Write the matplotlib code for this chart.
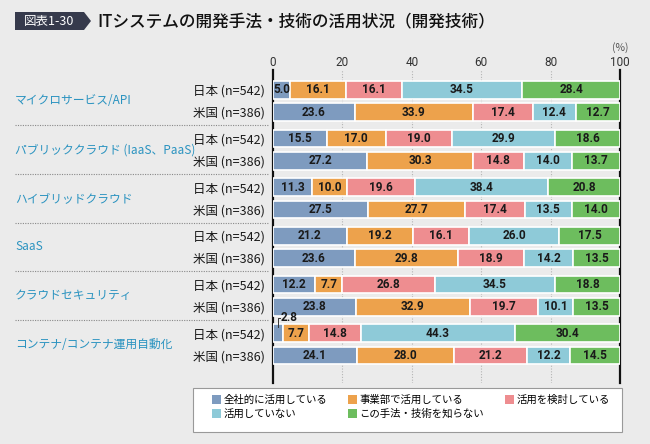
import matplotlib
matplotlib.use('Agg')
import matplotlib.pyplot as plt
import matplotlib.transforms as mtrans
from matplotlib.patches import Polygon, Rectangle

plt.rcParams['font.family'] = ['Noto Sans CJK JP', 'DejaVu Sans']

TITLE_TAG = '図表1-30'
TITLE = 'ITシステムの開発手法・技術の活用状況（開発技術）'

CATEGORIES = ['マイクロサービス/API', 'パブリッククラウド (IaaS、PaaS)', 'ハイブリッドクラウド',
              'SaaS', 'クラウドセキュリティ', 'コンテナ/コンテナ運用自動化']
ROW_LABELS = ['日本 (n=542)', '米国 (n=386)']
SERIES = ['全社的に活用している', '事業部で活用している', '活用を検討している',
          '活用していない', 'この手法・技術を知らない']
COLORS = ['#7e9bbf', '#eda24c', '#ee8d90', '#8ecad8', '#6dbd5e']

# one list per series, rows ordered 日本/米国 for each category
ZENSHA = [5.0, 23.6, 15.5, 27.2, 11.3, 27.5, 21.2, 23.6, 12.2, 23.8, 2.8, 24.1]
JIGYOBU = [16.1, 33.9, 17.0, 30.3, 10.0, 27.7, 19.2, 29.8, 7.7, 32.9, 7.7, 28.0]
KENTO = [16.1, 17.4, 19.0, 14.8, 19.6, 17.4, 16.1, 18.9, 26.8, 19.7, 14.8, 21.2]
MISIYO = [34.5, 12.4, 29.9, 14.0, 38.4, 13.5, 26.0, 14.2, 34.5, 10.1, 44.3, 12.2]
SHIRANAI = [28.4, 12.7, 18.6, 13.7, 20.8, 14.0, 17.5, 13.5, 18.8, 13.5, 30.4, 14.5]

X_TICKS = [0, 20, 40, 60, 80, 100]

GROUP_STEP = 2.2
NUM_FONT = ['Roboto', 'DejaVu Sans']


def main():
    fig = plt.figure(figsize=(6.5, 4.44), dpi=100)
    fig.patch.set_facecolor('#ebebeb')
    ax = fig.add_axes([273 / 650, 1 - 383 / 444, 347 / 650, 313 / 444])
    ax.set_facecolor('#ebebeb')

    ypos = []
    for g in range(len(CATEGORIES)):
        ypos += [g * GROUP_STEP, g * GROUP_STEP + 1]

    series = [ZENSHA, JIGYOBU, KENTO, MISIYO, SHIRANAI]
    left = [0.0] * len(ypos)
    handles = []
    for name, vals, col in zip(SERIES, series, COLORS):
        bars = ax.barh(ypos, vals, left=left, height=0.8, color=col,
                       edgecolor='white', linewidth=1.2, label=name, zorder=3)
        handles.append(bars)
        for y, l, v in zip(ypos, left, vals):
            if v < 4:
                continue
            ax.text(l + v / 2, y, '%.1f' % v, ha='center', va='center',
                    fontsize=8.5, fontweight='bold', color='#1a1a1a',
                    family=NUM_FONT, zorder=4)
        left = [a + b for a, b in zip(left, vals)]

    # small value with a leader line
    y_small = ypos[10]
    v_small = ZENSHA[10]
    ax.plot([v_small / 2, v_small / 2, 2.0], [y_small - 0.3, y_small - 0.7, y_small - 0.7],
            color='#333333', lw=0.7, zorder=5, clip_on=False)
    ax.text(2.1, y_small - 0.7, '%.1f' % v_small, ha='left', va='center',
            fontsize=8.5, fontweight='bold', color='#1a1a1a', family=NUM_FONT)

    ax.set_xlim(0, 100)
    ax.set_ylim(ypos[-1] + 1.25, -0.9)
    ax.set_xticks(X_TICKS)
    ax.xaxis.tick_top()
    ax.tick_params(axis='x', length=0, pad=1, labelsize=8.5, labelcolor='#333333')
    ax.set_yticks(ypos)
    ax.set_yticklabels(ROW_LABELS * len(CATEGORIES))
    ax.tick_params(axis='y', length=0, pad=6, labelsize=9, labelcolor='#1a1a1a')
    for lab in ax.get_xticklabels():
        lab.set_family(NUM_FONT)

    for x in X_TICKS[1:-1]:
        ax.axvline(x, color='#b5b5b5', lw=0.8, ls=(0, (1, 1.5)), zorder=1)

    for s in ['top', 'bottom']:
        ax.spines[s].set_visible(False)
    for s in ['left', 'right']:
        ax.spines[s].set_color('#111111')
        ax.spines[s].set_linewidth(1.6)

    ax.text(100, 1.0 + 17 / 313, '(%)', transform=mtrans.blended_transform_factory(
        ax.transData, ax.transAxes), ha='center', va='bottom', fontsize=7.5, color='#555555')

    # category labels and separators
    trans = mtrans.blended_transform_factory(fig.transFigure, ax.transData)
    for g, cat in enumerate(CATEGORIES):
        ax.text(15 / 650, g * GROUP_STEP + 0.5, cat, transform=trans, ha='left',
                va='center', fontsize=8.5, color='#2a93c0')
        if g < len(CATEGORIES) - 1:
            ysep = g * GROUP_STEP + 1.6
            ax.plot([15 / 650, 268 / 650], [ysep, ysep], transform=trans,
                    color='#888888', lw=0.8, ls=(0, (1, 1.2)), clip_on=False)

    # title
    tag = Polygon([(15 / 650, 1 - 12 / 444), (84 / 650, 1 - 12 / 444),
                   (91 / 650, 1 - 21 / 444), (84 / 650, 1 - 30 / 444),
                   (15 / 650, 1 - 30 / 444)], closed=True,
                  transform=fig.transFigure, facecolor='#363a4c', edgecolor='none')
    fig.patches.append(tag)
    fig.text(49 / 650, 1 - 21 / 444, TITLE_TAG, ha='center', va='center',
             fontsize=9, color='white')
    fig.text(97 / 650, 1 - 21 / 444, TITLE, ha='left', va='center',
             fontsize=12, color='#111111', fontweight='medium')

    # legend frame drawn separately so the entries can sit inset
    frame = Rectangle((193 / 650, 1 - 432 / 444), 429 / 650, 44 / 444,
                      transform=fig.transFigure, facecolor='white',
                      edgecolor='#999999', linewidth=0.8)
    fig.patches.append(frame)
    order = [0, 3, 1, 4, 2]
    leg = fig.legend([handles[i] for i in order], [SERIES[i] for i in order],
                     loc='upper left', ncol=3,
                     bbox_to_anchor=(212 / 650, 1 - 395 / 444),
                     fontsize=7.5, frameon=False, handlelength=0.9,
                     handleheight=0.9, handletextpad=0.2, borderpad=0.0,
                     labelspacing=0.35, columnspacing=2.0, borderaxespad=0)
    for h in leg.legend_handles:
        h.set_edgecolor('none')

    fig.savefig('out.png', dpi=100, facecolor=fig.get_facecolor())


if __name__ == '__main__':
    main()
